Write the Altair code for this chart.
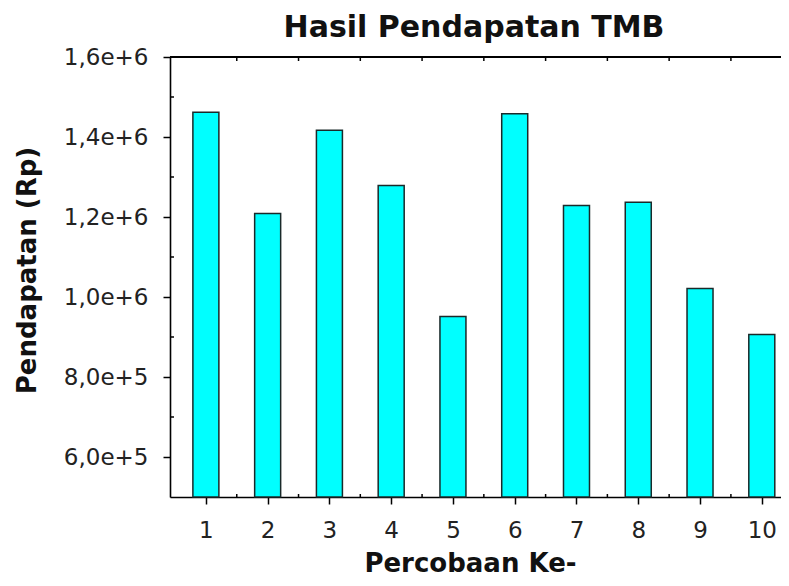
import altair as alt
import pandas as pd

# ---- data ----
trials = [1, 2, 3, 4, 5, 6, 7, 8, 9, 10]
income = [1462000, 1209000, 1417000, 1279000, 951000,
          1458000, 1229000, 1237000, 1021000, 906000]
y_ticks = [600000, 800000, 1000000, 1200000, 1400000, 1600000]
y_minor = [700000, 900000, 1100000, 1300000, 1500000]
x_minor = [1.5, 2.5, 3.5, 4.5, 5.5, 6.5, 7.5, 8.5, 9.5]
y_base = 500000

FONT = "DejaVu Sans"
W, H = 611, 440

xscale = alt.Scale(domain=[0.5, 10.23], nice=False, zero=False)
yscale = alt.Scale(domain=[500000, 1600000], nice=False, zero=False)

df = pd.DataFrame({"trial": trials, "income": income, "base": [y_base] * len(trials)})
dfx = pd.DataFrame({"m": x_minor})
dfy = pd.DataFrame({"m": y_minor})

common_axis = dict(
    domainColor="#000", domainWidth=1.6, tickColor="#000", tickWidth=1.5,
    tickSize=7, labelFont=FONT, labelFontSize=23, labelColor="#222",
    titleFont=FONT, titleFontSize=26, titleFontWeight="bold", titleColor="#111",
    titleBaseline="alphabetic", titleAlign="center", grid=False,
)

bars = alt.Chart(df).mark_bar(
    size=26, fill="#00FFFF", stroke="#1a2a2a", strokeWidth=1.5
).encode(
    x=alt.X("trial:Q", scale=xscale,
            axis=alt.Axis(orient="bottom", values=trials, format="d",
                          title="Percobaan Ke-", labelPadding=15,
                          titleX=300, titleY=74, **common_axis)),
    y=alt.Y("income:Q", scale=yscale,
            axis=alt.Axis(orient="left", values=y_ticks,
                          labelExpr="replace(format(datum.value, '.1e'), '.', ',')",
                          title="Pendapatan (Rp)", labelPadding=15,
                          titleAngle=270, titleX=-135, titleY=213,
                          **common_axis)),
    y2="base:Q",
)

# top frame line with inward minor ticks
top_ticks = alt.Chart(dfx).mark_rule(color="#000", strokeWidth=1.5).encode(
    x=alt.X("m:Q", scale=xscale, axis=None),
    y=alt.value(0), y2=alt.value(4),
)
top_line = alt.Chart(dfx).mark_rule(color="#000", strokeWidth=1.6).encode(
    x=alt.value(0), x2=alt.value(W), y=alt.value(0),
)

bottom_ticks = alt.Chart(dfx).mark_rule(color="#000", strokeWidth=1.5).encode(
    x=alt.X("m:Q", scale=xscale, axis=None),
    y=alt.value(H), y2=alt.value(H - 3),
)

left_ticks = alt.Chart(dfy).mark_rule(color="#000", strokeWidth=1.5).encode(
    y=alt.Y("m:Q", scale=yscale, axis=None),
    x=alt.value(0), x2=alt.value(4),
)

chart = alt.layer(bars, bottom_ticks, left_ticks, top_ticks, top_line).resolve_axis(
    x="independent", y="independent"
).properties(
    width=W, height=H,
    title=alt.TitleParams("Hasil Pendapatan TMB", font=FONT, fontSize=30,
                          fontWeight="bold", color="#111", anchor="middle",
                          offset=3, dx=-1.5),
    autosize=alt.AutoSizeParams(type="none"),
    padding={"left": 162, "top": 49, "right": 0, "bottom": 81},
).configure_view(stroke=None).configure(background="white")

chart.save("out.html", embed_options={"renderer": "svg", "actions": False})
